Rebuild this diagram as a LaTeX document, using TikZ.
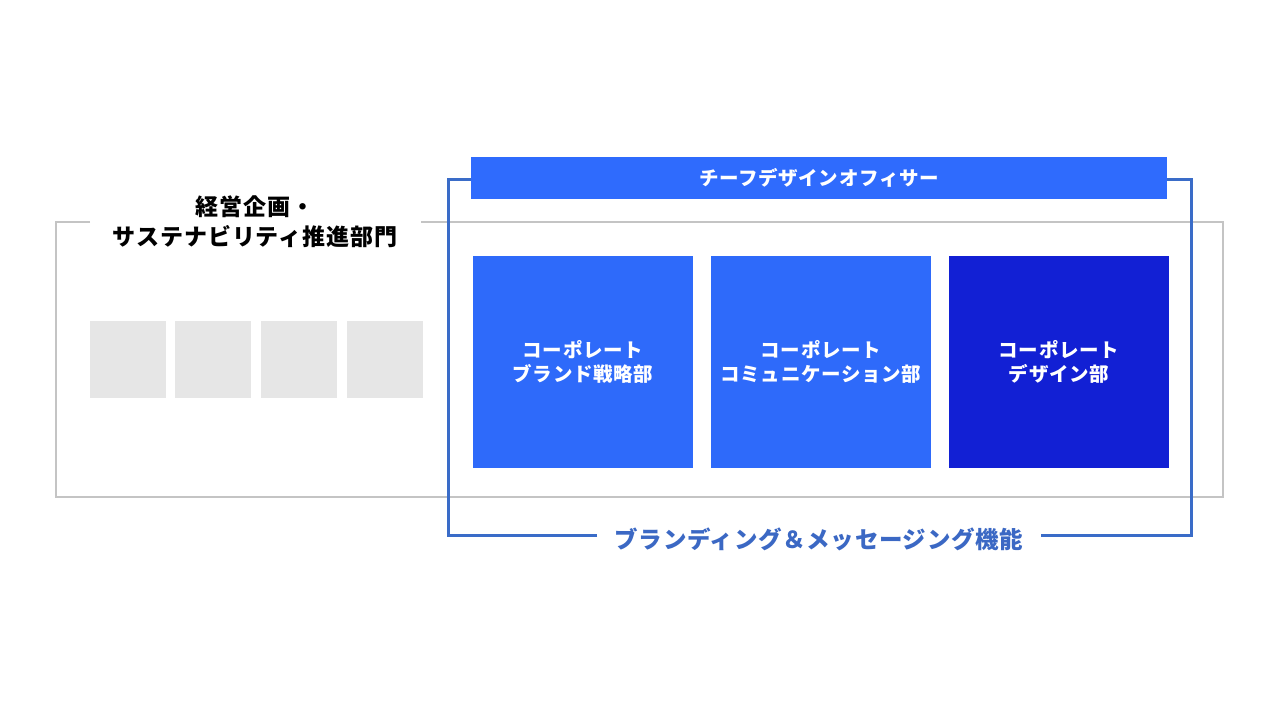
\documentclass[tikz,border=0pt]{standalone}
\usepackage{fontspec}
\setmainfont{Noto Sans CJK JP}
\definecolor{barblue}{HTML}{2F6BFD}
\definecolor{boxblue}{HTML}{2E6AFA}
\definecolor{darkblue}{HTML}{1220D4}
\definecolor{frameblue}{HTML}{3A6CC8}
\definecolor{labelblue}{HTML}{3B68C4}
\definecolor{graysq}{HTML}{E6E6E6}
\definecolor{grayline}{HTML}{C4C4C4}
\tikzset{
  graybox/.style={fill=graysq, draw=none, minimum width=76pt, minimum height=77pt, inner sep=0pt},
  deptbox/.style={draw=none, minimum width=220pt, minimum height=212pt, inner sep=0pt, text=white, align=center, font=\bfseries\fontsize{19.5}{23.5}\selectfont\addfontfeatures{LetterSpace=3.5}},
  grayframe/.style={draw=grayline, line width=2pt},
  blueframe/.style={draw=frameblue, line width=3pt},
}
\begin{document}
\begin{tikzpicture}[x=1pt,y=-1pt]
\useasboundingbox (0,0) rectangle (1280,720);
\fill[white] (0,0) rectangle (1280,720);
% gray outer frame
\coordinate (g1) at (90,222);
\coordinate (g2) at (421,222);
\draw[grayframe] (g1) -- (56,222) -- (56,497) -- (1223,497) -- (1223,222) -- (g2);
\node[font=\bfseries\fontsize{23}{30}\selectfont\addfontfeatures{LetterSpace=4}, align=center, text=black] (gtitle) at (255,222) {経営企画・\\サステナビリティ推進部門};
% gray squares
\node[graybox] (s1) at (128,359.5) {};
\node[graybox] (s2) at (213,359.5) {};
\node[graybox] (s3) at (299,359.5) {};
\node[graybox] (s4) at (385,359.5) {};
% blue frame
\coordinate (f1) at (597,535);
\coordinate (f2) at (1041,535);
\draw[blueframe] (f1) -- (448,535) -- (448,179.5) -- (1191,179.5) -- (1191,535) -- (f2);
\node[font=\bfseries\fontsize{23.5}{28}\selectfont\addfontfeatures{LetterSpace=3}, text=labelblue] (flabel) at (819,539) {ブランディング＆メッセージング機能};
% CDO bar
\node[fill=barblue, minimum width=696pt, minimum height=42pt, inner sep=0pt, text=white, font=\bfseries\fontsize{19.5}{24}\selectfont\addfontfeatures{LetterSpace=3.5}] (cdo) at (819,178) {チーフデザインオフィサー};
% departments
\node[deptbox, fill=boxblue] (d1) at (583,362) {コーポレート\\ブランド戦略部};
\node[deptbox, fill=boxblue] (d2) at (821,362) {コーポレート\\コミュニケーション部};
\node[deptbox, fill=darkblue] (d3) at (1059,362) {コーポレート\\デザイン部};
\end{tikzpicture}
\end{document}
